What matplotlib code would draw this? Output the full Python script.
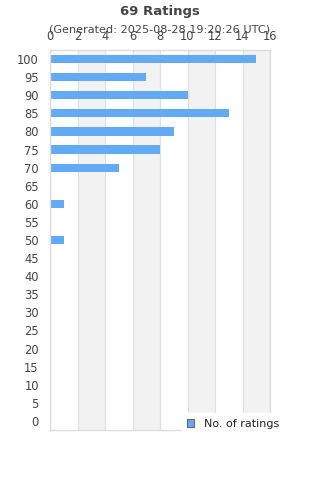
import matplotlib.pyplot as plt
from matplotlib.patches import Patch

# --- DATA ---
RATINGS = [100, 95, 90, 85, 80, 75, 70, 65, 60, 55, 50, 45, 40, 35, 30, 25, 20, 15, 10, 5, 0]
COUNTS = [15, 7, 10, 13, 9, 8, 5, 0, 1, 0, 1, 0, 0, 0, 0, 0, 0, 0, 0, 0, 0]
X_TICKS = [0, 2, 4, 6, 8, 10, 12, 14, 16]

TITLE = "69 Ratings"
SUBTITLE = "(Generated: 2025-08-28 19:20:26 UTC)"
LEGEND_LABEL = "No. of ratings"

BAR_COLOR = "#63aaf5"
TEXT_COLOR = "#444444"

fig = plt.figure(figsize=(3.2, 4.8), dpi=100)
ax = fig.add_axes([50 / 320, 50 / 480, 220 / 320, 380 / 480])

# alternating vertical bands
for i, (a, b) in enumerate(zip(X_TICKS[:-1], X_TICKS[1:])):
    if i % 2 == 1:
        ax.axvspan(a, b, color="#f2f2f2", zorder=0, lw=0)
for t in X_TICKS:
    ax.axvline(t, color="#e0e0e0", lw=0.9, zorder=0.5)

pos = list(range(len(RATINGS)))
ax.barh(pos, COUNTS, height=0.45, color=BAR_COLOR, zorder=2)

ax.set_ylim(len(RATINGS) - 0.5, -0.5)
ax.set_yticks(pos)
ax.set_yticklabels([str(r) for r in RATINGS])
ax.set_xlim(0, 16)
ax.set_xticks(X_TICKS)
ax.xaxis.tick_top()
ax.tick_params(axis="both", length=0, labelsize=8.3, colors=TEXT_COLOR)
ax.tick_params(axis="y", pad=8)
ax.tick_params(axis="x", pad=5)
for s in ax.spines.values():
    s.set_color("#dddddd")
    s.set_linewidth(1)

fig.text(0.5, 1 - 11 / 480, TITLE, ha="center", va="center",
         fontsize=9.5, fontweight="bold", color=TEXT_COLOR)
fig.text(0.5, 1 - 30 / 480, SUBTITLE, ha="center", va="center",
         fontsize=8.1, color=TEXT_COLOR)

handle = Patch(facecolor=BAR_COLOR, edgecolor="#666666", linewidth=0.8)
leg = fig.legend([handle], [LEGEND_LABEL], loc="lower left",
                 bbox_to_anchor=(176 / 320, 40 / 480), frameon=True,
                 fontsize=8, handlelength=0.65, handleheight=0.65,
                 handletextpad=0.9, borderpad=0.5, fancybox=False)
leg.get_frame().set_edgecolor("white")
leg.get_frame().set_facecolor("white")
leg.get_frame().set_alpha(1)
for txt in leg.get_texts():
    txt.set_color("#222222")

fig.savefig("out.png", dpi=100)
